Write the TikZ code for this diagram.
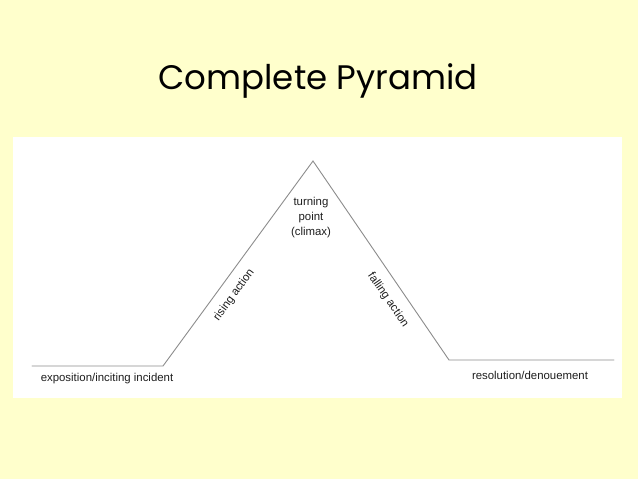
\documentclass[tikz,border=0pt]{standalone}
\usepackage{fontspec}
\setmainfont{Liberation Sans}
\newfontfamily\titlefont{Poppins}
\definecolor{slidebg}{RGB}{255,255,204}
\definecolor{plotline}{RGB}{140,140,140}
\definecolor{plottext}{RGB}{30,30,30}
\begin{document}
\begin{tikzpicture}[x=1pt,y=-1pt,line cap=round,
	label/.style={text=plottext,font=\fontsize{11.4}{15}\selectfont,inner sep=0pt,align=center}]
	% slide and white plot area
	\fill[slidebg] (0,0) rectangle (638,479);
	\useasboundingbox (0,0) rectangle (638,479);
	\fill[white] (13,137) rectangle (622,398);
	\node[font=\titlefont\fontsize{34}{40}\selectfont] (title) at (318,81) {Complete Pyramid};
	% the plot line
	\coordinate (start) at (32,366);
	\coordinate (riseA) at (163,366);
	\coordinate (peak) at (313,161);
	\coordinate (fallB) at (449,360);
	\coordinate (end) at (614,360);
	\draw[plotline,line width=0.9pt] (start) -- (riseA) -- (peak) -- (fallB) -- (end);
	\node[label] (climax) at (311,218) {turning\\point\\(climax)};
	\node[label,rotate=54] (rising) at (234,295) {rising action};
	\node[label,rotate=-55.6] (falling) at (388,300) {falling action};
	\node[label] (expo) at (107,379) {exposition/inciting incident};
	\node[label] (resol) at (530,375) {resolution/denouement};
\end{tikzpicture}
\end{document}
